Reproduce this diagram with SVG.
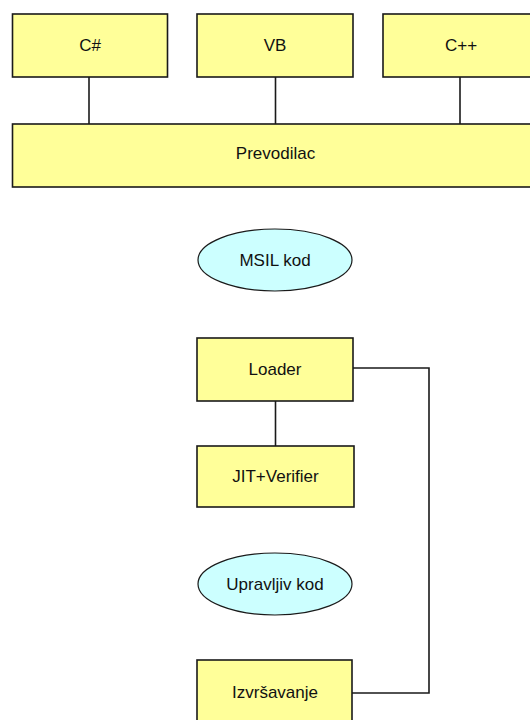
<svg xmlns="http://www.w3.org/2000/svg" width="530" height="720" viewBox="0 0 530 720">
  <style>
    .box { fill: #ffff99; stroke: #1a1a1a; stroke-width: 1.6; }
    .oval { fill: #ccffff; stroke: #1a1a1a; stroke-width: 1.2; }
    .wire { fill: none; stroke: #1a1a1a; stroke-width: 1.6; }
    text { font-family: "Liberation Sans", Arial, sans-serif; font-size: 17px; fill: #111; text-anchor: middle; }
  </style>
  <rect width="530" height="720" fill="#ffffff"/>

  <!-- connectors -->
  <g id="connectors">
    <line class="wire" x1="89" y1="77" x2="89" y2="124"/>
    <line class="wire" x1="275.5" y1="77" x2="275.5" y2="124"/>
    <line class="wire" x1="460" y1="77" x2="460" y2="124"/>
    <line class="wire" x1="275.5" y1="401" x2="275.5" y2="446"/>
    <polyline class="wire" points="353,368 429,368 429,693 352,693"/>
  </g>

  <!-- source languages -->
  <g id="csharp">
    <rect class="box" x="12.5" y="14" width="155" height="63"/>
    <text x="90" y="51">C#</text>
  </g>
  <g id="vb">
    <rect class="box" x="197" y="14" width="156" height="63"/>
    <text x="275" y="51">VB</text>
  </g>
  <g id="cpp">
    <rect class="box" x="383" y="14" width="156" height="63"/>
    <text x="461" y="51">C++</text>
  </g>

  <!-- compiler -->
  <g id="prevodilac">
    <rect class="box" x="12.5" y="124" width="527" height="63"/>
    <text x="275.5" y="159">Prevodilac</text>
  </g>

  <g id="msil">
    <ellipse class="oval" cx="275" cy="260" rx="77" ry="31"/>
    <text x="275" y="265.5">MSIL kod</text>
  </g>

  <g id="loader">
    <rect class="box" x="197" y="338" width="156" height="63"/>
    <text x="275" y="374.5">Loader</text>
  </g>

  <g id="jit">
    <rect class="box" x="197" y="446" width="157" height="61"/>
    <text x="275.5" y="481.5">JIT+Verifier</text>
  </g>

  <g id="upravljiv">
    <ellipse class="oval" cx="275" cy="584" rx="77" ry="31"/>
    <text x="275" y="589.5">Upravljiv kod</text>
  </g>

  <g id="izvrsavanje">
    <rect class="box" x="197" y="660" width="155" height="66"/>
    <text x="275" y="697.5">Izvršavanje</text>
  </g>
</svg>
